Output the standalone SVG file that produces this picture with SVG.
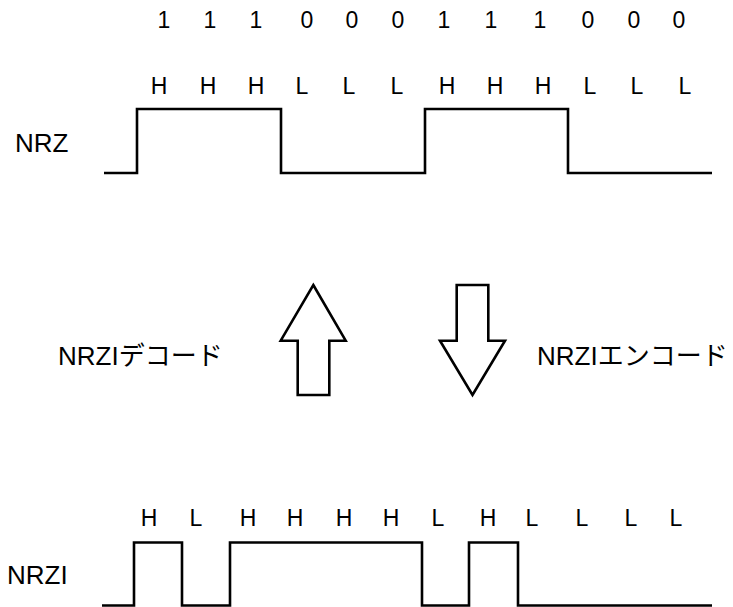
<svg xmlns="http://www.w3.org/2000/svg" width="733" height="607" viewBox="0 0 733 607">
<style>
  text { font-family: "Liberation Sans", "Noto Sans CJK JP", sans-serif; fill: #000; }
  .bit { font-size: 23px; text-anchor: middle; }
  .lbl { font-size: 26px; }
  .wave { fill: none; stroke: #000; stroke-width: 2.6; stroke-linejoin: miter; }
  .arrow { fill: #fff; stroke: #000; stroke-width: 2.6; stroke-linejoin: miter; }
</style>
<rect width="733" height="607" fill="#fff"/>
<g id="bits">
  <text class="bit" x="164" y="28">1</text>
  <text class="bit" x="210" y="28">1</text>
  <text class="bit" x="256" y="28">1</text>
  <text class="bit" x="307" y="28">0</text>
  <text class="bit" x="352" y="28">0</text>
  <text class="bit" x="398" y="28">0</text>
  <text class="bit" x="444" y="28">1</text>
  <text class="bit" x="491" y="28">1</text>
  <text class="bit" x="540" y="28">1</text>
  <text class="bit" x="588" y="28">0</text>
  <text class="bit" x="634" y="28">0</text>
  <text class="bit" x="679" y="28">0</text>
</g>
<g id="nrz-levels">
  <text class="bit" x="159" y="94">H</text>
  <text class="bit" x="208" y="94">H</text>
  <text class="bit" x="256" y="94">H</text>
  <text class="bit" x="302" y="94">L</text>
  <text class="bit" x="349" y="94">L</text>
  <text class="bit" x="397" y="94">L</text>
  <text class="bit" x="447" y="94">H</text>
  <text class="bit" x="495" y="94">H</text>
  <text class="bit" x="543" y="94">H</text>
  <text class="bit" x="590" y="94">L</text>
  <text class="bit" x="637" y="94">L</text>
  <text class="bit" x="685" y="94">L</text>
</g>
<g id="nrz">
  <text class="lbl" x="15" y="152">NRZ</text>
  <polyline class="wave" points="104,173 137,173 137,109 281,109 281,173 425,173 425,109 568,109 568,173 712,173"/>
</g>
<g id="decode-label">
  <text class="lbl" x="58" y="365">NRZIデコード</text>
</g>
<g id="encode-label">
  <text class="lbl" x="537" y="365">NRZIエンコード</text>
</g>
<g id="connectors">
  <polygon id="decode-arrow" class="arrow" points="313.3,285 345.7,340.7 329.3,340.7 329.3,395 297.7,395 297.7,340.7 280.7,340.7"/>
  <polygon id="encode-arrow" class="arrow" points="456.7,285 488.3,285 488.3,340.7 505,340.7 472.5,395 440,340.7 456.7,340.7"/>
</g>
<g id="nrzi-levels">
  <text class="bit" x="149" y="526">H</text>
  <text class="bit" x="196" y="526">L</text>
  <text class="bit" x="248" y="526">H</text>
  <text class="bit" x="295" y="526">H</text>
  <text class="bit" x="344" y="526">H</text>
  <text class="bit" x="391" y="526">H</text>
  <text class="bit" x="438" y="526">L</text>
  <text class="bit" x="488" y="526">H</text>
  <text class="bit" x="532" y="526">L</text>
  <text class="bit" x="582" y="526">L</text>
  <text class="bit" x="631" y="526">L</text>
  <text class="bit" x="676" y="526">L</text>
</g>
<g id="nrzi">
  <text class="lbl" x="7" y="584">NRZI</text>
  <polyline class="wave" points="102,605.5 134,605.5 134,542.5 182,542.5 182,605.5 230,605.5 230,542.5 422,542.5 422,605.5 469,605.5 469,542.5 518,542.5 518,605.5 712,605.5"/>
</g>
</svg>
